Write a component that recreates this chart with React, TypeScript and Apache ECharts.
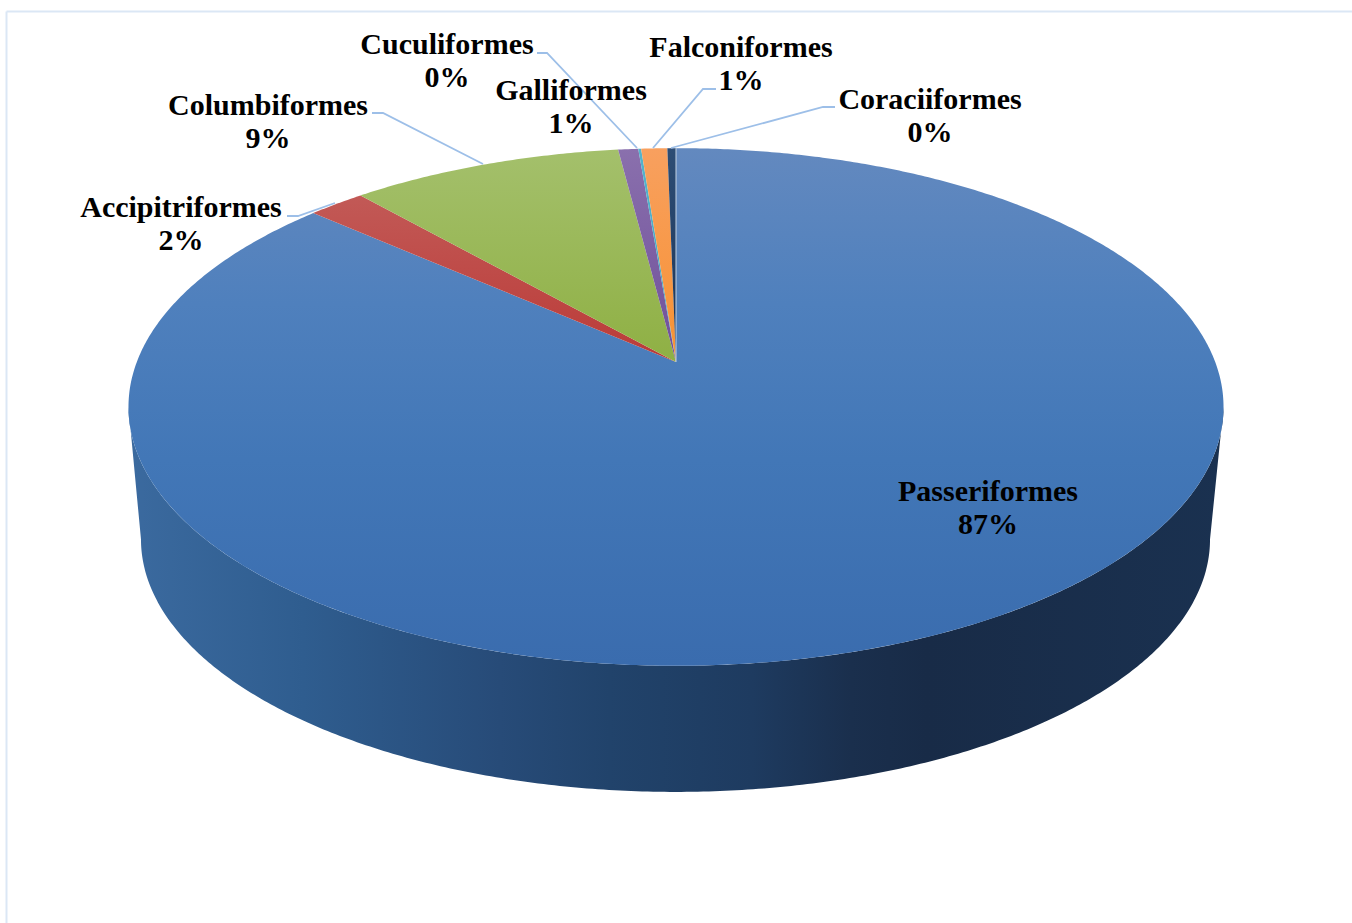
import React, { useEffect, useRef } from "react";
import * as echarts from "echarts";

// Bird orders, clockwise from twelve o'clock (share of records, %)
const orders = ["Passeriformes", "Accipitriformes", "Columbiformes", "Galliformes", "Cuculiformes", "Falconiformes", "Coraciiformes"];
const shares = [86.5, 2.0, 9.49, 0.7, 0.1, 0.91, 0.3];

// Face shading per wedge, offsets run from the back rim to the front rim of the pie
const faceShades: [number, string][][] = [
  [[0, "#6389bf"], [0.3, "#4f80bd"], [0.6, "#4277b7"], [1, "#3a6cae"]],
  [[0, "#c4625f"], [0.41, "#bb3b38"]],
  [[0, "#a4c06c"], [0.41, "#8fb044"]],
  [[0, "#8a70ad"], [0.41, "#6f4f9a"]],
  [[0, "#55b4cc"], [0.41, "#42a6c2"]],
  [[0, "#f8a05f"], [0.41, "#f79233"]],
  [[0, "#2d4d75"], [0.41, "#1c3558"]],
];

const labelCentres = [[988, 507], [181, 223], [268, 121], [571, 106], [447, 60], [741, 63], [930, 115]];
const leaders: (number[][] | null)[] = [
  null,
  [[287, 216], [298, 216], [335, 203]],
  [[372, 113], [383, 113], [483, 164]],
  null,
  [[537, 53], [547, 53], [637, 148]],
  [[716, 89], [703, 89], [653, 148]],
  [[835, 107], [823, 107], [671, 148]],
];

const wallShades: [number, string][] = [
  [0, "#3b6a9f"], [0.16, "#2f5d8f"], [0.34, "#274b78"], [0.44, "#21436b"],
  [0.57, "#1e3b60"], [0.66, "#1a2f4d"], [0.73, "#182b47"], [1, "#1a3150"],
];

// Perspective projection of a unit disc lying in the pie's plane
const tilt = 0.1737;
const topDisc = { cx: 676, cy: 362, a: 539.2, b: 251 };
const baseDisc = { cx: 675.5, cy: 495.4, a: 526.4, b: 245 };

function project(disc: typeof topDisc, deg: number): number[] {
  const t = (deg * Math.PI) / 180;
  const w = 1 + tilt * Math.cos(t);
  return [disc.cx + (disc.a * Math.sin(t)) / w, disc.cy - (disc.b * Math.cos(t)) / w];
}

function arc(disc: typeof topDisc, from: number, to: number): number[][] {
  const steps = Math.max(2, Math.ceil(Math.abs(to - from) * 2));
  const pts: number[][] = [];
  for (let i = 0; i <= steps; i++) pts.push(project(disc, from + ((to - from) * i) / steps));
  return pts;
}

const total = shares.reduce((s, v) => s + v, 0);
const startAngles = shares.map((_, i) => (shares.slice(0, i).reduce((s, v) => s + v, 0) / total) * 360);

// The near side of the drum is visible between these two angles
const silhouette = (Math.acos(-tilt) * 180) / Math.PI;

const toStops = (shades: [number, string][]) => shades.map(([offset, color]) => ({ offset, color }));

const renderWedge = (params: any, api: any) => {
  const i = params.dataIndex;
  const start = startAngles[i];
  const end = start + (api.value(0) / total) * 360;
  const children: any[] = [];
  const wallFrom = Math.max(start, silhouette);
  const wallTo = Math.min(end, 360 - silhouette);
  if (wallTo > wallFrom) {
    children.push({
      type: "polygon",
      shape: { points: [...arc(topDisc, wallFrom, wallTo), ...arc(baseDisc, wallTo, wallFrom)] },
      style: { fill: new echarts.graphic.LinearGradient(128, 0, 1223, 0, toStops(wallShades), true) },
    });
  }
  children.push({
    type: "polygon",
    shape: { points: [[topDisc.cx, topDisc.cy], ...arc(topDisc, start, end)] },
    style: { fill: new echarts.graphic.LinearGradient(0, 148, 0, 666, toStops(faceShades[i]), true) },
  });
  return { type: "group", children };
};

const renderSeam = (_: any, api: any) => ({
  type: "line",
  shape: { x1: topDisc.cx, y1: topDisc.cy, x2: project(topDisc, api.value(0))[0], y2: project(topDisc, api.value(0))[1] },
  style: { stroke: "#c3d2e4", lineWidth: 1 },
});

const labelFont = 'bold 30px "Liberation Serif"';

const graphics: any[] = [
  { type: "line", shape: { x1: 6.5, y1: 11.5, x2: 1352, y2: 11.5 }, style: { stroke: "#dbe7f5", lineWidth: 2 } },
  { type: "line", shape: { x1: 6.5, y1: 11.5, x2: 6.5, y2: 923 }, style: { stroke: "#dbe7f5", lineWidth: 2 } },
];
leaders.forEach((points) => {
  if (points) {
    graphics.push({ type: "polyline", z: 5, shape: { points }, style: { stroke: "#9dbfe8", lineWidth: 1.8, fill: "none" } });
  }
});
orders.forEach((name, i) => {
  graphics.push({
    type: "text",
    z: 6,
    x: labelCentres[i][0],
    y: labelCentres[i][1],
    style: {
      text: `${name}\n${Math.round(shares[i])}%`,
      font: labelFont,
      fill: "#000",
      align: "center",
      verticalAlign: "middle",
      lineHeight: 33,
    },
  });
});

export default function App() {
  const ref = useRef<HTMLDivElement>(null);
  useEffect(() => {
    document.body.style.margin = "0";
    const chart = echarts.init(ref.current!, undefined, { renderer: "svg" });
    chart.setOption({
      animation: false,
      backgroundColor: "#fff",
      graphic: graphics,
      series: [
        {
          type: "custom",
          coordinateSystem: "none",
          renderItem: renderWedge,
          data: shares.map((v) => [v]),
          silent: true,
        },
        {
          type: "custom",
          coordinateSystem: "none",
          renderItem: renderSeam,
          data: [[0]],
          silent: true,
        },
      ],
    });
    return () => chart.dispose();
  }, []);
  return <div ref={ref} style={{ position: "absolute", left: 0, top: 0, width: 1352, height: 923 }} />;
}
